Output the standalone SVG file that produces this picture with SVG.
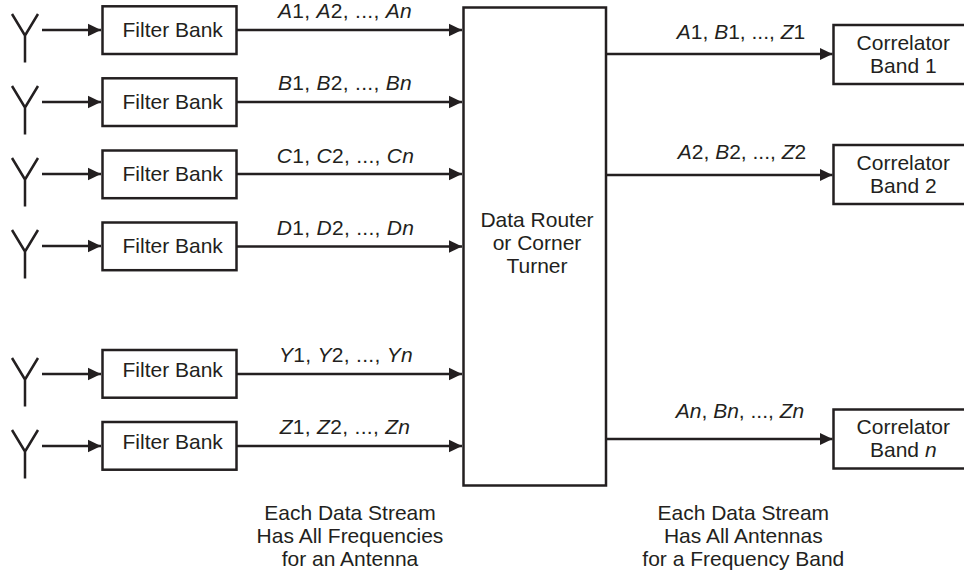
<svg xmlns="http://www.w3.org/2000/svg" width="964" height="571" viewBox="0 0 964 571">
<defs>
<marker id="ah" markerUnits="userSpaceOnUse" markerWidth="14" markerHeight="14" refX="13" refY="7" orient="auto"><path d="M0,0.7 L13,7 L0,13.3 Z" fill="#231f20"/></marker>
<g id="ant"><path d="M12,-16 L25,5.500 L38,-16 M25,5.500 V32.500" fill="none" stroke="#231f20" stroke-width="2.500"/></g>
</defs>
<style>
text{font-family:"Liberation Sans",Arial,sans-serif;font-size:21px;fill:#231f20;text-anchor:middle}
.box{fill:#fff;stroke:#231f20;stroke-width:2.500}
.c{fill:none;stroke:#231f20;stroke-width:2.500;marker-end:url(#ah)}
.i{font-style:italic}
.w{letter-spacing:.3px}
</style>
<rect width="964" height="571" fill="#fff"/>
<g id="connectors">
<path class="c" d="M42,30H101"/><path class="c" d="M42,102H101"/><path class="c" d="M42,174H101"/><path class="c" d="M42,246H101"/><path class="c" d="M42,374H101"/><path class="c" d="M42,446H101"/>
<path class="c" d="M237,30H462"/><path class="c" d="M237,102H462"/><path class="c" d="M237,174H462"/><path class="c" d="M237,246.500H462"/><path class="c" d="M237,374H462"/><path class="c" d="M237,446H462"/>
<path class="c" d="M606,54H832.500"/><path class="c" d="M606,175H832.500"/><path class="c" d="M606,439H832.500"/>
</g>
<g id="ant1"><use href="#ant" y="30"/></g>
<g id="ant2"><use href="#ant" y="102"/></g>
<g id="ant3"><use href="#ant" y="174"/></g>
<g id="ant4"><use href="#ant" y="246"/></g>
<g id="ant5"><use href="#ant" y="374"/></g>
<g id="ant6"><use href="#ant" y="446"/></g>
<g id="fb1"><rect class="box" x="102.500" y="6.300" width="134" height="47.700"/><text x="172.700" y="36.700">Filter Bank</text></g>
<g id="fb2"><rect class="box" x="102.500" y="78.300" width="134" height="47.700"/><text x="172.700" y="108.500">Filter Bank</text></g>
<g id="fb3"><rect class="box" x="102.500" y="150.500" width="134" height="47.700"/><text x="172.700" y="180.500">Filter Bank</text></g>
<g id="fb4"><rect class="box" x="102.500" y="222.500" width="134" height="47.700"/><text x="172.700" y="252.500">Filter Bank</text></g>
<g id="fb5"><rect class="box" x="102.500" y="350" width="134" height="47.700"/><text x="172.700" y="377.300">Filter Bank</text></g>
<g id="fb6"><rect class="box" x="102.500" y="422" width="134" height="47.700"/><text x="172.700" y="449.300">Filter Bank</text></g>
<g id="router"><rect class="box" x="463.500" y="7.500" width="142.500" height="478"/><text x="537" y="227">Data Router</text><text x="537" y="250">or Corner</text><text x="537" y="273">Turner</text></g>
<g id="cb1"><rect class="box" x="833.500" y="25" width="140" height="59"/><text x="903.300" y="50">Correlator</text><text x="903.300" y="72.700">Band 1</text></g>
<g id="cb2"><rect class="box" x="833.500" y="145" width="140" height="59"/><text x="903.300" y="170">Correlator</text><text x="903.300" y="192.700">Band 2</text></g>
<g id="cb3"><rect class="box" x="833.500" y="409.500" width="140" height="59"/><text x="903.300" y="434">Correlator</text><text x="903.300" y="456.700">Band <tspan class="i">n</tspan></text></g>
<g id="labels">
<text class="w" x="345" y="18"><tspan class="i">A</tspan>1, <tspan class="i">A</tspan>2, ..., <tspan class="i">An</tspan></text>
<text class="w" x="345" y="90"><tspan class="i">B</tspan>1, <tspan class="i">B</tspan>2, ..., <tspan class="i">Bn</tspan></text>
<text class="w" x="345.500" y="162.500"><tspan class="i">C</tspan>1, <tspan class="i">C</tspan>2, ..., <tspan class="i">Cn</tspan></text>
<text class="w" x="345.500" y="235"><tspan class="i">D</tspan>1, <tspan class="i">D</tspan>2, ..., <tspan class="i">Dn</tspan></text>
<text class="w" x="346" y="362"><tspan class="i">Y</tspan>1, <tspan class="i">Y</tspan>2, ..., <tspan class="i">Yn</tspan></text>
<text class="w" x="345" y="434"><tspan class="i">Z</tspan>1, <tspan class="i">Z</tspan>2, ..., <tspan class="i">Zn</tspan></text>
<text x="741" y="39.300"><tspan class="i">A</tspan>1, <tspan class="i">B</tspan>1, ..., <tspan class="i">Z</tspan>1</text>
<text x="742" y="158.500"><tspan class="i">A</tspan>2, <tspan class="i">B</tspan>2, ..., <tspan class="i">Z</tspan>2</text>
<text x="740" y="418.300"><tspan class="i">An</tspan>, <tspan class="i">Bn</tspan>, ..., <tspan class="i">Zn</tspan></text>
<text x="350" y="520">Each Data Stream</text><text x="350" y="542.700">Has All Frequencies</text><text x="350" y="566">for an Antenna</text>
<text x="743.300" y="519.500">Each Data Stream</text><text x="743.300" y="542.700">Has All Antennas</text><text x="743.300" y="566">for a Frequency Band</text>
</g>
</svg>
